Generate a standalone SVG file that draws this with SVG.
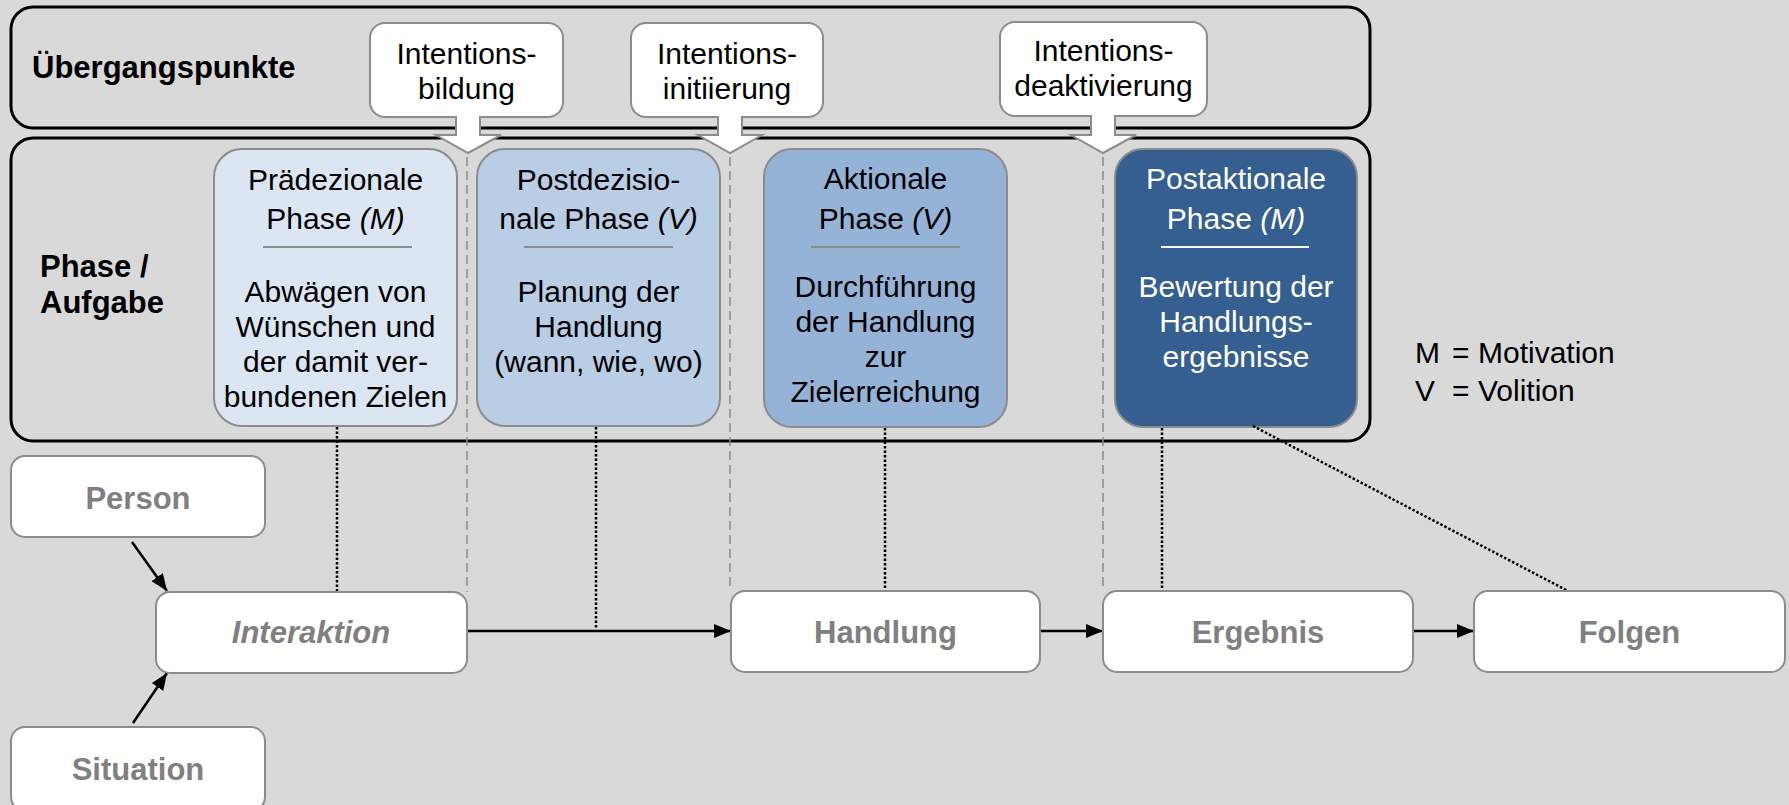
<svg xmlns="http://www.w3.org/2000/svg" width="1789" height="805" viewBox="0 0 1789 805">
  <style>
    text { font-family: "Liberation Sans", Arial, sans-serif; font-size: 30px; text-anchor: middle; fill: #000; }
    .lbl { font-weight: bold; text-anchor: start; font-size: 31px; }
    .gray { fill: #808080; font-weight: bold; font-size: 31px; }
    .it { font-style: italic; }
    .white { fill: #fff; }
    .band { fill: none; stroke: #000; stroke-width: 3; }
    .ibox { fill: #fff; stroke: #8C8C8C; stroke-width: 2; }
    .barrow { fill: #fff; stroke: #8C8C8C; stroke-width: 2; stroke-linejoin: miter; }
    .phase { stroke: #8C8C8C; stroke-width: 2; }
    .div { stroke: #8C8C8C; stroke-width: 2; }
    .node { fill: #fff; stroke: #8C8C8C; stroke-width: 2; }
    .dashed { stroke: #8C8C8C; stroke-width: 1.5; stroke-dasharray: 9 5; fill: none; }
    .dotted { stroke: #000; stroke-width: 2.5; stroke-dasharray: 2.5 2; fill: none; }
    .flow { stroke: #000; stroke-width: 2.5; fill: none; marker-end: url(#arrow); }
  </style>
  <defs>
    <marker id="arrow" markerWidth="17" markerHeight="14" refX="17" refY="7" orient="auto" markerUnits="userSpaceOnUse">
      <path d="M0,0 L17,7 L0,14 z" fill="#000"/>
    </marker>
  </defs>

  <rect width="1789" height="805" fill="#D9D9D9"/>

  <!-- bands -->
  <g id="band-uebergang">
    <rect class="band" x="11" y="7" width="1359" height="121" rx="22"/>
    <text class="lbl" x="32" y="78">Übergangspunkte</text>
  </g>
  <g id="band-phase">
    <rect class="band" x="11" y="138" width="1359" height="303" rx="22"/>
    <text class="lbl" x="40" y="277">Phase /</text>
    <text class="lbl" x="40" y="313">Aufgabe</text>
  </g>

  <!-- phase boundary lines -->
  <g id="boundaries">
    <line class="dashed" x1="467" y1="157" x2="467" y2="592"/>
    <line class="dashed" x1="730" y1="157" x2="730" y2="591"/>
    <line class="dashed" x1="1103" y1="157" x2="1103" y2="591"/>
  </g>

  <!-- transition points -->
  <g id="intentionsbildung">
    <rect class="ibox" x="370" y="23" width="193" height="94" rx="15"/>
    <path class="barrow" d="M456,116 V135 H436 L468,153 L501,135 H480 V116"/>
    <text x="466.5" y="64">Intentions-</text>
    <text x="466.5" y="99">bildung</text>
  </g>
  <g id="intentionsinitiierung">
    <rect class="ibox" x="631" y="23" width="192" height="94" rx="15"/>
    <path class="barrow" d="M718,116 V135 H698 L730,153 L762,135 H742 V116"/>
    <text x="727" y="64">Intentions-</text>
    <text x="727" y="99">initiierung</text>
  </g>
  <g id="intentionsdeaktivierung">
    <rect class="ibox" x="1000" y="22" width="207" height="94" rx="15"/>
    <path class="barrow" d="M1091,115 V135 H1071 L1103,153 L1136,135 H1115 V115"/>
    <text x="1103.5" y="61">Intentions-</text>
    <text x="1103.5" y="96">deaktivierung</text>
  </g>

  <!-- phases -->
  <g id="praedezisional">
    <rect class="phase" x="214" y="149" width="243" height="277" rx="28" fill="#DCE6F2"/>
    <text x="335.5" y="190">Prädezionale</text>
    <text x="335.5" y="229">Phase <tspan class="it">(M)</tspan></text>
    <line class="div" x1="263" y1="247" x2="412" y2="247"/>
    <text x="335.5" y="302">Abwägen von</text>
    <text x="335.5" y="337">Wünschen und</text>
    <text x="335.5" y="372">der damit ver-</text>
    <text x="335.5" y="407">bundenen Zielen</text>
  </g>
  <g id="postdezisional">
    <rect class="phase" x="477" y="149" width="243" height="277" rx="28" fill="#B9CDE5"/>
    <text x="598.5" y="190">Postdezisio-</text>
    <text x="598.5" y="229">nale Phase <tspan class="it">(V)</tspan></text>
    <line class="div" x1="524" y1="247" x2="673" y2="247"/>
    <text x="598.5" y="302">Planung der</text>
    <text x="598.5" y="337">Handlung</text>
    <text x="598.5" y="372">(wann, wie, wo)</text>
  </g>
  <g id="aktional">
    <rect class="phase" x="764" y="149" width="243" height="278" rx="28" fill="#95B3D7"/>
    <text x="885.5" y="189">Aktionale</text>
    <text x="885.5" y="229">Phase <tspan class="it">(V)</tspan></text>
    <line class="div" x1="811" y1="247" x2="960" y2="247"/>
    <text x="885.5" y="297">Durchführung</text>
    <text x="885.5" y="332">der Handlung</text>
    <text x="885.5" y="367">zur</text>
    <text x="885.5" y="402">Zielerreichung</text>
  </g>
  <g id="postaktional">
    <rect class="phase" x="1115" y="149" width="242" height="278" rx="28" fill="#355F91"/>
    <text class="white" x="1236" y="189">Postaktionale</text>
    <text class="white" x="1236" y="229">Phase <tspan class="it">(M)</tspan></text>
    <line x1="1161" y1="247" x2="1309" y2="247" stroke="#fff" stroke-width="2"/>
    <text class="white" x="1236" y="297">Bewertung der</text>
    <text class="white" x="1236" y="332">Handlungs-</text>
    <text class="white" x="1236" y="367">ergebnisse</text>
  </g>

  <!-- legend -->
  <g id="legende">
    <text style="text-anchor:start" x="1415" y="363">M</text>
    <text style="text-anchor:start" x="1452" y="363">=</text>
    <text style="text-anchor:start" x="1478" y="363">Motivation</text>
    <text style="text-anchor:start" x="1415" y="401">V</text>
    <text style="text-anchor:start" x="1452" y="401">=</text>
    <text style="text-anchor:start" x="1478" y="401">Volition</text>
  </g>

  <!-- connectors -->
  <g id="connectors">
    <line class="dotted" x1="337" y1="427" x2="337" y2="592"/>
    <line class="dotted" x1="596" y1="427" x2="596" y2="629"/>
    <line class="dotted" x1="885" y1="428" x2="885" y2="591"/>
    <line class="dotted" x1="1162" y1="428" x2="1162" y2="591"/>
    <line class="dotted" x1="1253" y1="426" x2="1568" y2="591"/>
    <line class="flow" x1="132" y1="542" x2="167" y2="591"/>
    <line class="flow" x1="133" y1="723" x2="167" y2="673"/>
    <line class="flow" x1="467" y1="631" x2="731" y2="631"/>
    <line class="flow" x1="1040" y1="631" x2="1103" y2="631"/>
    <line class="flow" x1="1413" y1="631" x2="1474" y2="631"/>
  </g>

  <!-- flow nodes -->
  <g id="person">
    <rect class="node" x="11" y="456" width="254" height="81" rx="14"/>
    <text class="gray" x="138" y="509">Person</text>
  </g>
  <g id="situation">
    <rect class="node" x="11" y="727" width="254" height="84" rx="14"/>
    <text class="gray" x="138" y="780">Situation</text>
  </g>
  <g id="interaktion">
    <rect class="node" x="156" y="592" width="311" height="81" rx="14"/>
    <text class="gray it" x="311" y="643">Interaktion</text>
  </g>
  <g id="handlung">
    <rect class="node" x="731" y="591" width="309" height="81" rx="14"/>
    <text class="gray" x="885.5" y="643">Handlung</text>
  </g>
  <g id="ergebnis">
    <rect class="node" x="1103" y="591" width="310" height="81" rx="14"/>
    <text class="gray" x="1258" y="643">Ergebnis</text>
  </g>
  <g id="folgen">
    <rect class="node" x="1474" y="591" width="311" height="81" rx="14"/>
    <text class="gray" x="1629.5" y="643">Folgen</text>
  </g>
</svg>
